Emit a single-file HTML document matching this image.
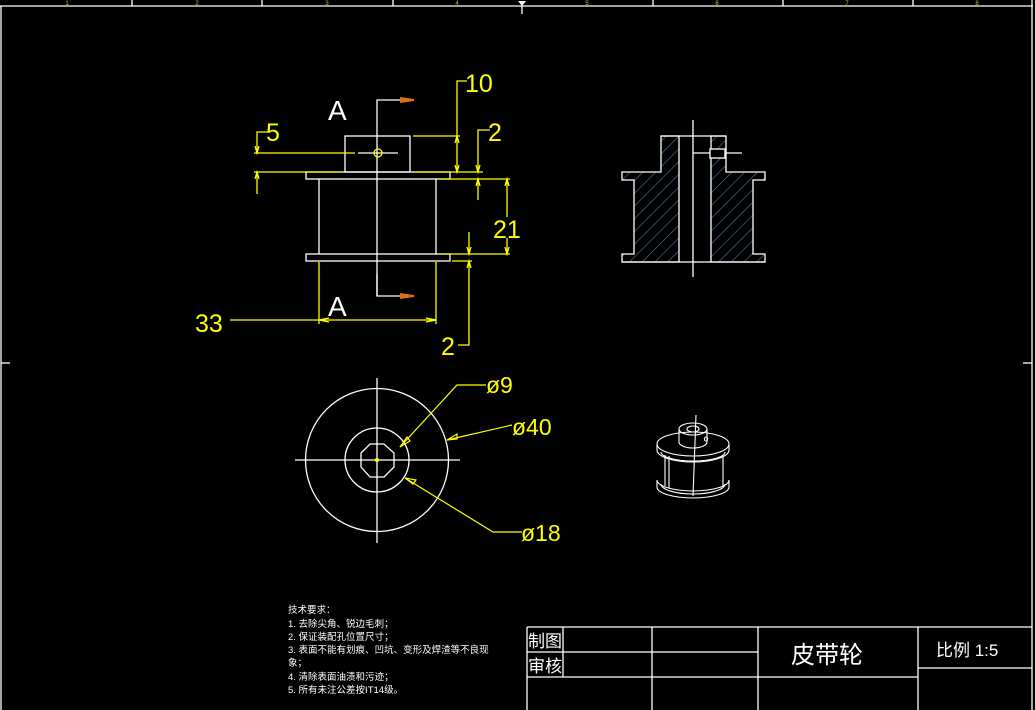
<!DOCTYPE html>
<html><head><meta charset="utf-8"><style>
html,body{margin:0;padding:0;background:#000;width:1035px;height:710px;overflow:hidden}
svg{display:block}
text{font-family:"Liberation Sans","Noto Sans CJK SC",sans-serif}
</style></head><body>
<svg width="1035" height="710" viewBox="0 0 1035 710" xmlns="http://www.w3.org/2000/svg">
<defs>
<pattern id="h" patternUnits="userSpaceOnUse" width="9" height="9" patternTransform="rotate(45)">
<line x1="0" y1="0" x2="0" y2="9" stroke="#4a78a8" stroke-width="1.2"/>
</pattern>
</defs>
<rect width="1035" height="710" fill="#000"/>
<!-- ruler -->
<g stroke="#fff" stroke-width="1.3" fill="none">
<line x1="0" y1="6" x2="1033" y2="6"/>
<line x1="1" y1="6" x2="1" y2="710"/>
<line x1="1032" y1="0" x2="1032" y2="710"/>
<line x1="132" y1="0" x2="132" y2="6"/><line x1="262" y1="0" x2="262" y2="6"/>
<line x1="393" y1="0" x2="393" y2="6"/><line x1="653" y1="0" x2="653" y2="6"/>
<line x1="783" y1="0" x2="783" y2="6"/><line x1="913" y1="0" x2="913" y2="6"/>
<line x1="522" y1="6" x2="522" y2="14"/>
<line x1="1" y1="363" x2="10" y2="363"/><line x1="1023" y1="363" x2="1032" y2="363"/>
</g>
<polygon points="518,1 526,1 522,6" fill="#fff"/>
<g font-size="6" fill="#c8c800" text-anchor="middle">
<text x="67" y="5">1</text><text x="197" y="5">2</text><text x="327" y="5">3</text><text x="457" y="5">4</text>
<text x="587" y="5">5</text><text x="717" y="5">6</text><text x="847" y="5">7</text><text x="977" y="5">8</text>
</g>

<!-- front view -->
<g stroke="#fff" stroke-width="1.3" fill="none">
<rect x="345" y="136" width="65" height="36"/>
<rect x="306" y="172" width="144" height="7"/>
<line x1="319" y1="179" x2="319" y2="254"/><line x1="436" y1="179" x2="436" y2="254"/>
<rect x="306" y="254" width="144" height="7"/>
<line x1="377" y1="120" x2="377" y2="296"/>
<polyline points="377,120 377,100 400,100"/>
<polyline points="377,274 377,296 400,296"/>
<line x1="358" y1="153" x2="398" y2="153"/>
</g>
<polygon points="400,97 414,99 414,101 400,103" fill="#e07010"/>
<polygon points="400,293 414,295 414,297 400,299" fill="#e07010"/>
<text x="328" y="120" font-size="28" fill="#fff" font-weight="300">A</text>
<text x="328" y="316" font-size="28" fill="#fff" font-weight="300">A</text>
<g stroke="#ff0" stroke-width="1.3" fill="none">
<circle cx="378" cy="153" r="4"/>
<line x1="254" y1="153" x2="355" y2="153"/>
<polyline points="270,132 257,132 257,153"/>
<line x1="254" y1="172" x2="343" y2="172"/>
<line x1="257" y1="172" x2="257" y2="194"/>
<line x1="413" y1="136" x2="460" y2="136"/>
<polyline points="467,81 457,81 457,172"/>
<line x1="413" y1="172" x2="483" y2="172"/>
<polyline points="490,130 478,130 478,172"/>
<line x1="478" y1="179" x2="478" y2="200"/>
<line x1="440" y1="179" x2="510" y2="179"/>
<line x1="507" y1="179" x2="507" y2="217"/><line x1="507" y1="238" x2="507" y2="254"/>
<line x1="440" y1="254" x2="510" y2="254"/>
<line x1="469" y1="232" x2="469" y2="254"/>
<line x1="452" y1="261" x2="472" y2="261"/>
<polyline points="469,261 469,345 458,345"/>
<line x1="230" y1="320" x2="436" y2="320"/>
<line x1="319" y1="262" x2="319" y2="324"/><line x1="436" y1="262" x2="436" y2="324"/>
<polyline points="255,146 257,153 259,146"/>
<polyline points="255,179 257,172 259,179"/>
<polyline points="455,143 457,136 459,143"/><polyline points="455,165 457,172 459,165"/>
<polyline points="476,165 478,172 480,165"/><polyline points="476,186 478,179 480,186"/>
<polyline points="505,186 507,179 509,186"/><polyline points="505,247 507,254 509,247"/>
<polyline points="467,247 469,254 471,247"/><polyline points="467,268 469,261 471,268"/>
<polyline points="329,318 319,320 329,322"/><polyline points="426,318 436,320 426,322"/>
</g>
<g fill="#ff0" font-size="25">
<text x="266" y="141">5</text>
<text x="465" y="92">10</text>
<text x="488" y="141">2</text>
<text x="493" y="238">21</text>
<text x="441" y="355">2</text>
<text x="195" y="332">33</text>
</g>

<!-- section view -->
<path d="M661,136 H679 V262 H622 V254 H634 V180 H622 V172 H661 Z" fill="url(#h)" stroke="#fff" stroke-width="1.3"/>
<path d="M711,136 H726 V172 H765 V180 H753 V254 H765 V262 H711 Z" fill="url(#h)" stroke="#fff" stroke-width="1.3"/>
<g stroke="#fff" stroke-width="1.3" fill="none">
<line x1="661" y1="136" x2="726" y2="136"/>
<line x1="622" y1="262" x2="765" y2="262"/>
<line x1="693" y1="120" x2="693" y2="277"/>
<line x1="693" y1="153" x2="742" y2="153"/>
<rect x="710" y="149" width="15" height="9" fill="#000"/>
</g>

<!-- circle view -->
<g stroke="#fff" stroke-width="1.3" fill="none">
<circle cx="377" cy="460" r="71.5"/>
<circle cx="377" cy="460" r="32"/>
<polygon points="370,444 384,444 394,453 394,467 384,477 370,477 361,467 361,453"/>
<line x1="295" y1="460" x2="460" y2="460"/>
<line x1="377" y1="378" x2="377" y2="543"/>
</g>
<circle cx="377" cy="460" r="2" fill="#ff0"/>
<g stroke="#ff0" stroke-width="1.2" fill="none">
<polyline points="400,447 457,385 486,385"/>
<polyline points="447,440 512,425"/>
<polyline points="405,478 493,532 522,532"/>
<polygon points="400,447 407,437 410,441"/>
<polygon points="447,440 457,434 457,439"/>
<polygon points="405,478 416,480 413,484"/>
</g>
<g fill="#ff0" font-size="23">
<text x="486" y="393">ø9</text>
<text x="512" y="435">ø40</text>
<text x="521" y="541">ø18</text>
</g>

<!-- 3D view -->
<g stroke="#fff" stroke-width="1.1" fill="none">
<!-- bottom flange -->
<path d="M657,480 L657,487 A36,11 0 0 0 729,487 L729,480"/>
<path d="M657,480 A36,11 0 0 0 729,480"/>
<path d="M661,484 A32,10 0 0 0 725,484"/>
<!-- body -->
<line x1="665" y1="455" x2="665" y2="486"/>
<line x1="723" y1="455" x2="723" y2="486"/>
<line x1="669" y1="456" x2="669" y2="488"/>
<!-- top flange -->
<ellipse cx="693" cy="444" rx="36" ry="12"/>
<path d="M657,444 L657,450 A36,12 0 0 0 729,450 L729,444"/>
<path d="M661,452 A32,9 0 0 0 725,452"/>
<!-- hub -->
<path d="M679,429 L679,442 A14,6 0 0 0 707,442 L707,429"/>
<ellipse cx="693" cy="429" rx="14" ry="6"/>
<ellipse cx="693" cy="429" rx="6" ry="3"/>
<ellipse cx="706" cy="439" rx="1.5" ry="2"/>
<line x1="696" y1="415" x2="693" y2="496"/>
</g>

<!-- tech requirements -->
<g fill="#fff" font-size="9.5">
<text x="288" y="613">技术要求：</text>
<text x="288" y="627">1. 去除尖角、锐边毛刺；</text>
<text x="288" y="640">2. 保证装配孔位置尺寸；</text>
<text x="288" y="653">3. 表面不能有划痕、凹坑、变形及焊渣等不良现</text>
<text x="288" y="666">象；</text>
<text x="288" y="680">4. 清除表面油渍和污迹；</text>
<text x="288" y="693">5. 所有未注公差按IT14级。</text>
</g>

<!-- title block -->
<g stroke="#fff" stroke-width="1.3" fill="none">
<line x1="527" y1="627" x2="1032" y2="627"/>
<line x1="527" y1="627" x2="527" y2="710"/>
<line x1="527" y1="652" x2="758" y2="652"/>
<line x1="527" y1="677" x2="918" y2="677"/>
<line x1="918" y1="668" x2="1032" y2="668"/>
<line x1="563" y1="627" x2="563" y2="677"/>
<line x1="652" y1="627" x2="652" y2="710"/>
<line x1="758" y1="627" x2="758" y2="710"/>
<line x1="918" y1="627" x2="918" y2="710"/>
</g>
<g fill="#fff">
<text x="528" y="647" font-size="17">制图</text>
<text x="528" y="672" font-size="17">审核</text>
<text x="791" y="663" font-size="24">皮带轮</text>
<text x="936" y="656" font-size="17">比例 1:5</text>
</g>
</svg>
</body></html>
